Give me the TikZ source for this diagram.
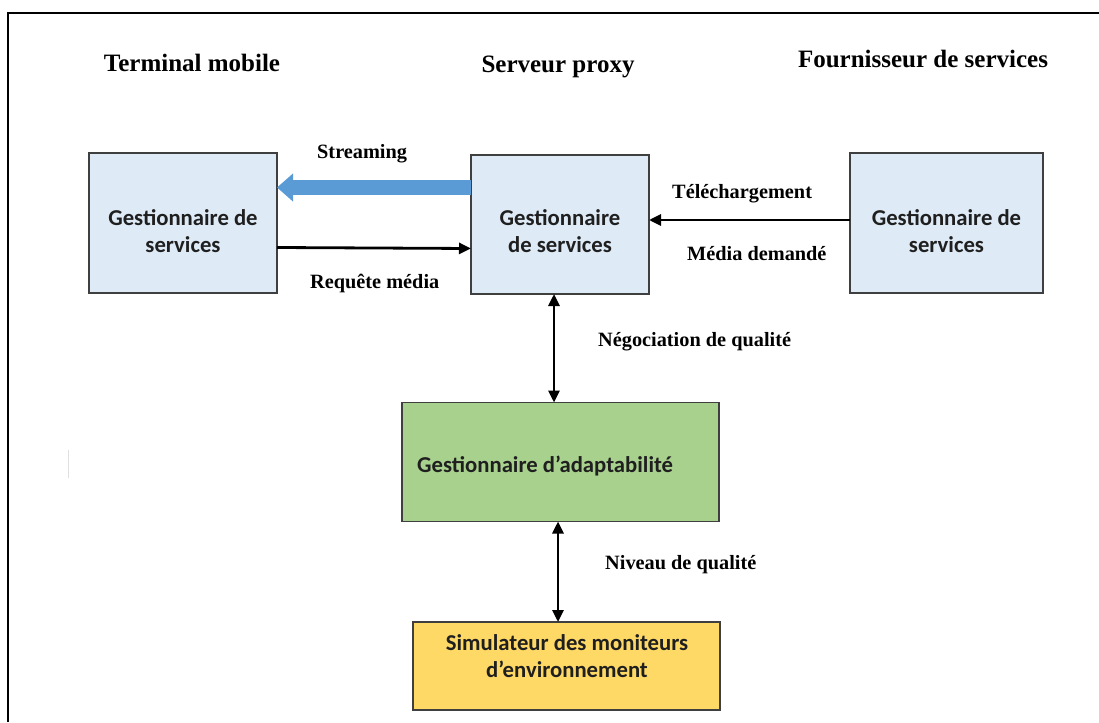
\documentclass[tikz,border=0pt]{standalone}
\usepackage{fontspec}
\setmainfont{Liberation Serif}
\newfontfamily\boxfont{Carlito}
\usetikzlibrary{arrows.meta}

\definecolor{paleblue}{HTML}{DEEBF7}
\definecolor{boxgreen}{HTML}{A9D18E}
\definecolor{boxgold}{HTML}{FFD966}
\definecolor{streamblue}{HTML}{5B9BD5}
\definecolor{edge}{HTML}{3F3F3F}

\tikzset{
  unit/.style={draw=edge, line width=1.5pt, minimum width=#1, inner sep=0pt, outer sep=0pt},
  title/.style={font=\bfseries\fontsize{25}{30}\selectfont, anchor=base, inner sep=0pt},
  flowlabel/.style={font=\bfseries\fontsize{20.3}{24}\selectfont, anchor=base west, inner sep=0pt},
  boxtext/.style={font=\boxfont\bfseries\fontsize{22.7}{27}\selectfont, align=center, inner sep=0pt, text=black!88},
  link/.style={line width=2.8pt, -{Triangle[length=12pt,width=11pt]}},
  duplex/.style={line width=2.8pt, {Triangle[length=12pt,width=11pt]}-{Triangle[length=12pt,width=11pt]}},
  stream/.style={draw=streamblue, line width=15pt, -{Triangle[length=16pt,width=27pt]}},
}

\begin{document}
\begin{tikzpicture}[x=1pt, y=-1pt]
\useasboundingbox (0,0) rectangle (1099,722);
\fill[white] (0,0) rectangle (1099,722);

% outer frame (left and top edges)
\draw[line width=2.8pt] (8,722) -- (8,13) -- (1099,13);
\draw[black!12, line width=1pt] (68,450) -- (68,478);

% column headings
\node[title] (hmob) at (192,72) {Terminal mobile};
\node[title] (hprx) at (558,73) {Serveur proxy};
\node[title] (hsrc) at (923,68) {Fournisseur de services};

% boxes
\node[unit=188pt, minimum height=140pt, fill=paleblue] (mob) at (183,223) {};
\node[unit=178pt, minimum height=139pt, fill=paleblue] (prx) at (560,224.5) {};
\node[unit=193pt, minimum height=140pt, fill=paleblue] (src) at (946.5,223) {};
\node[unit=317pt, minimum height=119pt, fill=boxgreen] (ada) at (560.5,462) {};
\node[unit=307pt, minimum height=88pt, fill=boxgold] (sim) at (566.5,666) {};

% box captions
\node[boxtext] (tmob) at (183,231) {Gestionnaire de\\services};
\node[boxtext] (tprx) at (560,231) {Gestionnaire\\de services};
\node[boxtext] (tsrc) at (946.5,231) {Gestionnaire de\\services};
\node[boxtext, anchor=west] (tada) at (417,466) {Gestionnaire d’adaptabilité};
\node[boxtext] (tsim) at (567,656) {Simulateur des moniteurs\\d’environnement};

% connectors
\draw[stream] (prx.west |- 0,187.5) -- (mob.east |- 0,187.5);
\draw[link] (mob.east |- 0,247.5) -- (prx.west |- 0,248.5);
\draw[link] (src.west |- 0,220) -- (prx.east |- 0,220);
\draw[duplex] ([xshift=-6pt]prx.south) -- ([xshift=-6pt]prx.south |- ada.north);
\draw[duplex] ([xshift=-2.5pt]ada.south) -- ([xshift=-2.5pt]ada.south |- sim.north);

% connector labels
\node[flowlabel] (lstr) at (317,159) {Streaming};
\node[flowlabel] (lreq) at (310,288) {Requête média};
\node[flowlabel] (ltel) at (672,198) {Téléchargement};
\node[flowlabel] (lmed) at (687,260) {Média demandé};
\node[flowlabel] (lneg) at (598,346) {Négociation de qualité};
\node[flowlabel] (lniv) at (605,569) {Niveau de qualité};
\end{tikzpicture}
\end{document}
